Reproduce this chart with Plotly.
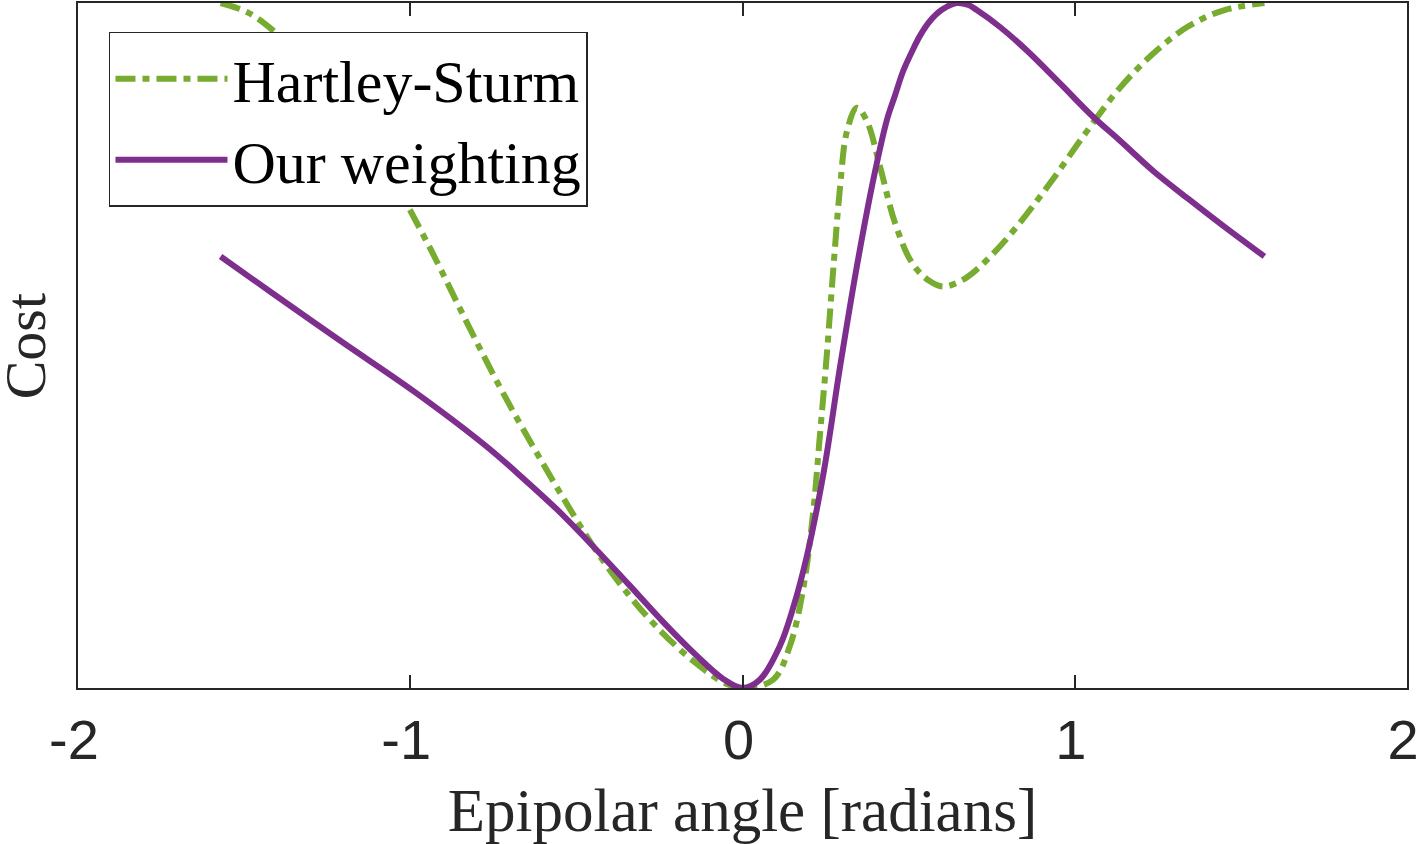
import plotly.graph_objects as go

# Data
ours_x = [-1.5708, -1.42, -1.205, -0.989, -0.774, -0.66, -0.559, -0.452, -0.344, -0.242, -0.142, -0.06, 0.0,
          0.052, 0.113, 0.153, 0.193, 0.244, 0.294, 0.344, 0.395, 0.435, 0.459, 0.483, 0.511, 0.534,
          0.563, 0.60, 0.644, 0.68, 0.704, 0.775, 0.855, 0.955, 1.055, 1.134, 1.238, 1.342, 1.446, 1.5708]
ours_y = [0.63, 0.578, 0.505, 0.433, 0.354, 0.306, 0.261, 0.208, 0.152, 0.098, 0.049, 0.014, 0.0,
          0.012, 0.062, 0.118, 0.191, 0.314, 0.47, 0.615, 0.745, 0.83, 0.865, 0.9, 0.93, 0.952,
          0.973, 0.99, 1.0, 0.997, 0.99, 0.965, 0.931, 0.883, 0.834, 0.8, 0.754, 0.714, 0.675, 0.63]

hs_x = [-1.5708, -1.488, -1.408, -1.308, -1.208, -1.108, -1.054, -0.936, -0.828, -0.72, -0.613, -0.544,
        -0.444, -0.341, -0.242, -0.142, -0.06, 0.0, 0.092, 0.143, 0.183, 0.213, 0.233, 0.253, 0.273,
        0.294, 0.314, 0.344, 0.374, 0.414, 0.459, 0.511, 0.563, 0.605, 0.667, 0.74, 0.823, 0.927,
        1.031, 1.134, 1.238, 1.342, 1.446, 1.5708]
hs_y = [1.0, 0.986, 0.958, 0.912, 0.855, 0.79, 0.745, 0.638, 0.532, 0.43, 0.338, 0.281,
        0.203, 0.135, 0.081, 0.037, 0.009, 0.0, 0.012, 0.062, 0.146, 0.258, 0.369, 0.482, 0.61,
        0.733, 0.812, 0.847, 0.828, 0.761, 0.679, 0.62, 0.594, 0.586, 0.597, 0.627, 0.672, 0.738,
        0.809, 0.875, 0.927, 0.966, 0.989, 1.0]

x_ticks = [-2, -1, 0, 1, 2]
x_tick_text = ["-2", "-1", "0", "1", "2"]

series_names = ["Hartley-Sturm", "Our weighting"]
GREEN = "#77AC30"
PURPLE = "#7E2F8E"
AX = "#262626"

fig = go.Figure()
fig.add_trace(go.Scatter(
    x=hs_x, y=hs_y, mode="lines", name=series_names[0],
    line=dict(color=GREEN, width=6, dash="20px,7px,7px,7px", shape="spline", smoothing=1.0),
))
fig.add_trace(go.Scatter(
    x=ours_x, y=ours_y, mode="lines", name=series_names[1],
    line=dict(color=PURPLE, width=6, shape="spline", smoothing=1.0),
))

serif = "Liberation Serif, Times New Roman, serif"
sans = "Liberation Sans, Arial, Helvetica, sans-serif"

fig.update_layout(
    width=1420, height=844,
    margin=dict(l=78, r=13, t=3, b=156),
    paper_bgcolor="white", plot_bgcolor="white",
    showlegend=True,
    legend=dict(
        x=0.0233, y=0.958, xanchor="left", yanchor="top",
        bgcolor="white", bordercolor=AX, borderwidth=1.5,
        font=dict(family=serif, size=60, color="black"),
        itemwidth=112, tracegroupgap=0,
    ),
    xaxis=dict(
        range=[-2, 2], tickmode="array", tickvals=x_ticks, ticktext=x_tick_text,
        ticks="inside", ticklen=13, tickwidth=1.5, tickcolor=AX,
        showline=True, linecolor=AX, linewidth=1.5, mirror="ticks",
        showgrid=False, zeroline=False, automargin=False,
        tickfont=dict(family=sans, size=56, color=AX),
        ticklabelstandoff=2, ticklabelshift=-4, ticklabeloverflow="allow",
        title=dict(text="Epipolar angle [radians]", font=dict(family=serif, size=61, color=AX), standoff=24),
    ),
    yaxis=dict(
        range=[0, 1], showticklabels=False, ticks="",
        showline=True, linecolor=AX, linewidth=1.5, mirror=True,
        showgrid=False, zeroline=False, automargin=False,
    ),
    annotations=[dict(
        text="Cost", textangle=-90, xref="paper", yref="paper",
        x=-0.0395, y=0.498, xanchor="center", yanchor="middle", showarrow=False,
        font=dict(family=serif, size=58, color=AX),
    )],
)

fig.write_html(
    "out.html",
    config={"displayModeBar": False},
    post_script="document.body.style.margin='0';document.body.style.padding='0';",
)
